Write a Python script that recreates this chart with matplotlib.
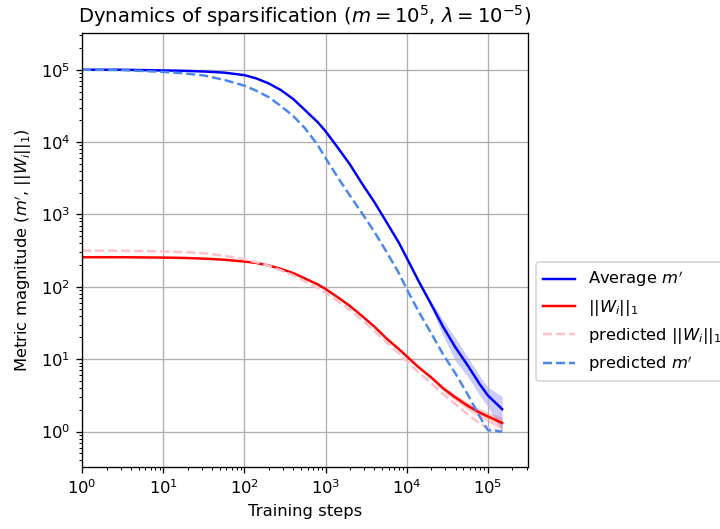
import numpy as np
import matplotlib
matplotlib.use("Agg")
import matplotlib.pyplot as plt

# training steps
steps = [1, 3, 10, 18, 32, 56, 100, 140, 200, 280, 400, 560, 800, 1000, 1400,
         2000, 2800, 4000, 5600, 8000, 1e4, 1.4e4, 2e4, 2.8e4, 4e4, 5.6e4,
         8e4, 1e5, 1.5e5]

# log10 of each metric
log_m_avg = [5.00, 5.00, 4.99, 4.985, 4.975, 4.96, 4.925, 4.88, 4.81, 4.72,
             4.595, 4.44, 4.275, 4.15, 3.93, 3.69, 3.43, 3.17, 2.90, 2.61,
             2.40, 2.08, 1.76, 1.45, 1.16, 0.92, 0.65, 0.50, 0.31]
log_m_pred = [5.00, 4.995, 4.97, 4.95, 4.92, 4.86, 4.78, 4.71, 4.62, 4.50,
              4.36, 4.19, 3.96, 3.78, 3.52, 3.26, 3.02, 2.76, 2.49, 2.19,
              1.97, 1.66, 1.36, 1.07, 0.80, 0.52, 0.20, 0.02, 0.00]
log_w = [2.41, 2.41, 2.405, 2.40, 2.39, 2.375, 2.35, 2.33, 2.295, 2.25,
         2.19, 2.115, 2.035, 1.97, 1.86, 1.735, 1.60, 1.45, 1.29, 1.14,
         1.04, 0.89, 0.75, 0.60, 0.47, 0.36, 0.26, 0.21, 0.12]
log_w_pred = [2.50, 2.50, 2.49, 2.48, 2.465, 2.43, 2.38, 2.34, 2.29, 2.23,
              2.16, 2.075, 1.985, 1.92, 1.81, 1.68, 1.545, 1.39, 1.24, 1.08,
              0.97, 0.82, 0.67, 0.52, 0.38, 0.24, 0.11, 0.05, 0.00]

# relative spread of the shaded bands
m_spread = [0.01, 0.01, 0.01, 0.01, 0.01, 0.01, 0.01, 0.01, 0.01, 0.01,
            0.01, 0.01, 0.01, 0.01, 0.02, 0.02, 0.02, 0.03, 0.03, 0.04,
            0.04, 0.06, 0.10, 0.25, 0.35, 0.30, 0.30, 0.30, 0.50]
w_spread = [0.02, 0.02, 0.02, 0.02, 0.02, 0.02, 0.02, 0.02, 0.02, 0.02,
            0.02, 0.02, 0.02, 0.02, 0.02, 0.02, 0.02, 0.02, 0.03, 0.04,
            0.05, 0.05, 0.06, 0.08, 0.10, 0.12, 0.14, 0.15, 0.20]

x = np.array(steps)
m_avg = 10 ** np.array(log_m_avg)
m_pred = 10 ** np.array(log_m_pred)
w = 10 ** np.array(log_w)
w_pred = 10 ** np.array(log_w_pred)
ms = np.array(m_spread)
ws = np.array(w_spread)

fig = plt.figure(figsize=(720 / 118, 529 / 118), dpi=118)
ax = fig.add_axes([0.114, 0.117, 0.619, 0.821])

ax.fill_between(x, m_avg * (1 - ms), m_avg * (1 + ms), color="blue", alpha=0.2, linewidth=0)
ax.fill_between(x, w * (1 - ws), w * (1 + ws), color="red", alpha=0.2, linewidth=0)
ax.plot(x, m_avg, color="blue", label="Average $m'$")
ax.plot(x, w, color="red", label="$||W_i||_1$")
ax.plot(x, w_pred, color="pink", ls="--", label="predicted $||W_i||_1$")
ax.plot(x, m_pred, color="#4a88f0", ls="--", label="predicted $m'$")

ax.set_xscale("log")
ax.set_yscale("log")
ax.set_xlim(1, 3.1e5)
ax.set_ylim(10 ** -0.49, 10 ** 5.51)
ax.grid(True)
ax.set_xlabel("Training steps")
ax.set_ylabel("Metric magnitude ($m'$, $||W_i||_1$)")
ax.set_title("Dynamics of sparsification ($m = 10^5$, $\\lambda = 10^{-5}$)")
ax.legend(loc="center left", bbox_to_anchor=(1.0, 0.335))

fig.savefig("out.png", dpi=118)
